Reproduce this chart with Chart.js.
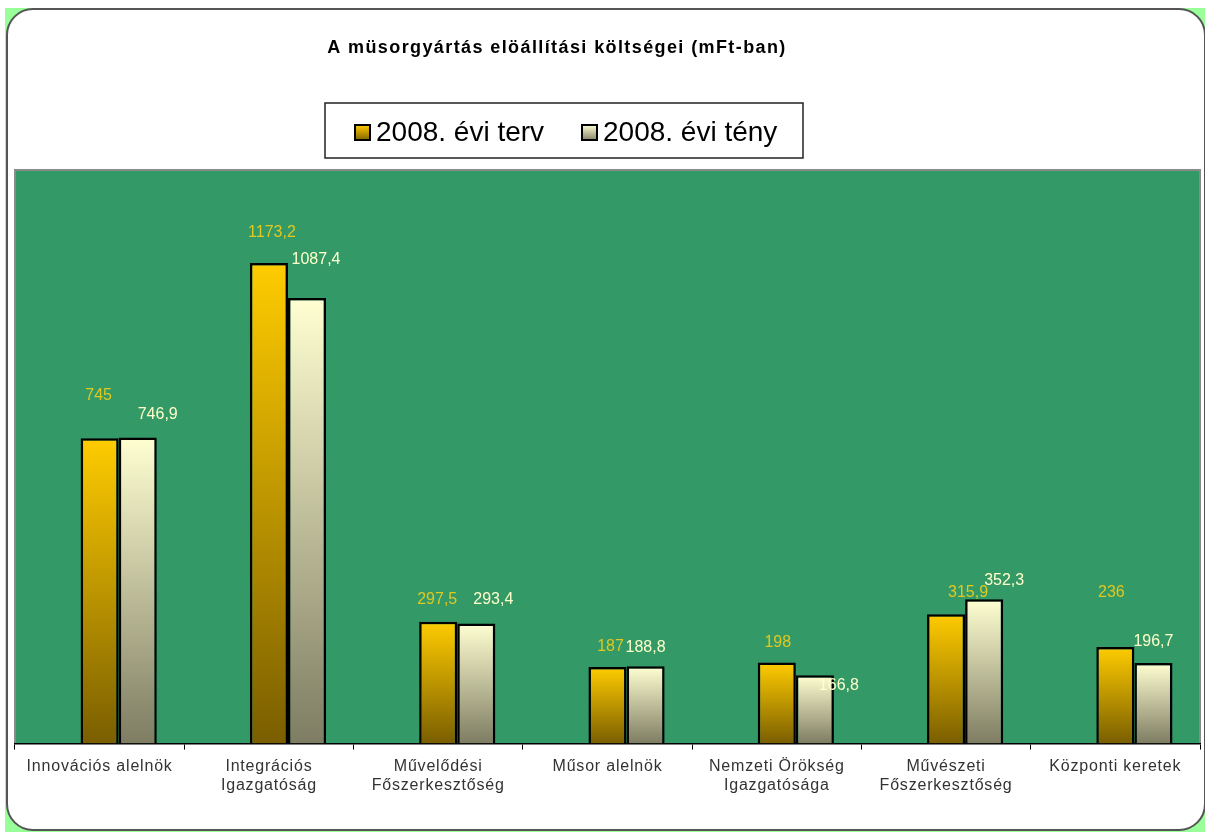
<!DOCTYPE html>
<html>
<head>
<meta charset="utf-8">
<script src="https://cdn.jsdelivr.net/npm/chart.js@4"></script>
<style>
  html, body { margin: 0; padding: 0; background: #ffffff; }
  #wrap { width: 1205px; height: 832px; position: relative; }
</style>
</head>
<body>
<div id="wrap"><canvas id="c" width="1205" height="832"></canvas></div>
<script>
// ---- data ----
const chartTitle = "A müsorgyártás elöállítási költségei (mFt-ban)";
const categories = [
  ["Innovációs alelnök"],
  ["Integrációs", "Igazgatóság"],
  ["Művelődési", "Főszerkesztőség"],
  ["Műsor alelnök"],
  ["Nemzeti Örökség", "Igazgatósága"],
  ["Művészeti", "Főszerkesztőség"],
  ["Központi keretek"]
];
const seriesNames = ["2008. évi terv", "2008. évi tény"];
const planValues = [745, 1173.2, 297.5, 187, 198, 315.9, 236];
const actualValues = [746.9, 1087.4, 293.4, 188.8, 166.8, 352.3, 196.7];
const valueLabelsPlan = ["745", "1173,2", "297,5", "187", "198", "315,9", "236"];
const valueLabelsActual = ["746,9", "1087,4", "293,4", "188,8", "166,8", "352,3", "196,7"];
const yMax = 1400;

// ---- styling (label placement offsets in px, relative to bar top centre) ----
const planLabelShift = [[-1,-43],[3,-30],[-1,-22],[3,-20],[1,-20],[22,-22],[-4,-54]];
const actualLabelShift = [[20,-23],[9,-38],[17,-24],[0,-19],[24,10],[20,-19],[0,-21]];
const planColors = { top: "#FFCC00", bottom: "#7A5E00", label: "#E0C820" };
const actualColors = { top: "#FFFFD2", bottom: "#7E7C62", label: "#FFFFCC" };
const FONT = "'Liberation Sans', Arial, sans-serif";

function gradFor(colors) {
  return function (ctx) {
    const chart = ctx.chart;
    const area = chart.chartArea;
    if (!area || ctx.type !== 'data' || ctx.raw == null) return colors.top;
    const y = chart.scales.y;
    const yTop = y.getPixelForValue(ctx.raw);
    const yBot = y.getPixelForValue(0);
    const g = chart.ctx.createLinearGradient(0, yTop, 0, yBot);
    g.addColorStop(0, colors.top);
    g.addColorStop(1, colors.bottom);
    return g;
  };
}

const framePlugin = {
  id: 'frame',
  beforeDraw(chart) {
    const c = chart.ctx;
    c.save();
    c.fillStyle = '#ffffff';
    c.fillRect(0, 0, chart.width, chart.height);
    c.fillStyle = '#99FF99';
    c.fillRect(5, 8, chart.width - 5, chart.height - 8);
    // rounded white frame
    c.beginPath();
    c.roundRect(7, 9, 1198, 821, 26);
    c.fillStyle = '#ffffff';
    c.fill();
    c.lineWidth = 2;
    c.strokeStyle = '#555555';
    c.stroke();
    // plot area
    const a = chart.chartArea;
    c.fillStyle = '#339966';
    c.fillRect(a.left, a.top, a.right - a.left, a.bottom - a.top);
    c.strokeStyle = '#8a8a8a';
    c.lineWidth = 2;
    c.beginPath();
    c.moveTo(a.left, a.bottom);
    c.lineTo(a.left, a.top);
    c.lineTo(a.right, a.top);
    c.lineTo(a.right, a.bottom);
    c.stroke();
    c.restore();
    // axis label spacing (wide Excel-style text)
    c.letterSpacing = '0.8px';
  },
  beforeDatasetsDraw(chart) {
    chart.ctx.letterSpacing = '0px';
  },
  afterDatasetsDraw(chart) {
    const c = chart.ctx;
    c.save();
    c.letterSpacing = '0px';
    c.font = "16px " + FONT;
    c.textAlign = 'center';
    c.textBaseline = 'middle';
    const draw = (dsIndex, labels, shifts, color) => {
      const meta = chart.getDatasetMeta(dsIndex);
      meta.data.forEach((bar, i) => {
        if (labels[i] == null) return;
        c.fillStyle = color;
        c.fillText(labels[i], bar.x + shifts[i][0], bar.y + shifts[i][1]);
      });
    };
    draw(1, valueLabelsPlan, planLabelShift, planColors.label);
    draw(2, valueLabelsActual, actualLabelShift, actualColors.label);
    c.restore();
  },
  afterDraw(chart) {
    const c = chart.ctx;
    c.save();
    // title
    c.fillStyle = '#000000';
    c.font = "bold 18px " + FONT;
    c.letterSpacing = '1.4px';
    c.textAlign = 'center';
    c.textBaseline = 'alphabetic';
    c.fillText(chartTitle, 557, 53);
    c.letterSpacing = '0px';
    // legend box
    c.fillStyle = '#ffffff';
    c.fillRect(325, 103, 478, 55);
    c.strokeStyle = '#222222';
    c.lineWidth = 1.5;
    c.strokeRect(325, 103, 478, 55);
    const items = [
      { x: 355, colors: planColors, text: seriesNames[0] },
      { x: 582, colors: actualColors, text: seriesNames[1] }
    ];
    c.font = "28px " + FONT;
    c.textAlign = 'left';
    c.textBaseline = 'middle';
    items.forEach(it => {
      const g = c.createLinearGradient(0, 125, 0, 141);
      g.addColorStop(0, it.colors.top);
      g.addColorStop(1, it.colors.bottom);
      c.fillStyle = g;
      c.fillRect(it.x, 125, 15, 15);
      c.lineWidth = 2;
      c.strokeStyle = '#000000';
      c.strokeRect(it.x, 125, 15, 15);
      c.fillStyle = '#000000';
      c.fillText(it.text, it.x + 21, 133);
    });
    c.restore();
  }
};

new Chart(document.getElementById('c'), {
  type: 'bar',
  data: {
    labels: categories,
    datasets: [
      { label: '', data: categories.map(() => null) },
      {
        label: seriesNames[0],
        data: planValues,
        backgroundColor: gradFor(planColors),
        borderColor: '#000000',
        borderWidth: 2.5
      },
      {
        label: seriesNames[1],
        data: actualValues,
        backgroundColor: gradFor(actualColors),
        borderColor: '#000000',
        borderWidth: 2.5
      }
    ]
  },
  options: {
    responsive: false,
    animation: false,
    devicePixelRatio: 1,
    layout: { padding: { left: 15, right: 5, top: 170, bottom: 30 } },
    datasets: { bar: { categoryPercentage: 0.675, barPercentage: 1 } },
    plugins: {
      legend: { display: false },
      title: { display: false },
      tooltip: { enabled: false }
    },
    scales: {
      x: {
        offset: true,
        border: { display: true, color: '#000000', width: 1.5 },
        grid: { drawOnChartArea: false, drawTicks: true, tickLength: 6, color: '#000000', offset: true },
        ticks: {
          color: '#333333',
          font: { family: FONT, size: 16 },
          padding: 7,
          maxRotation: 0,
          autoSkip: false
        }
      },
      y: {
        display: false,
        min: 0,
        max: yMax
      }
    }
  },
  plugins: [framePlugin]
});
</script>
</body>
</html>
